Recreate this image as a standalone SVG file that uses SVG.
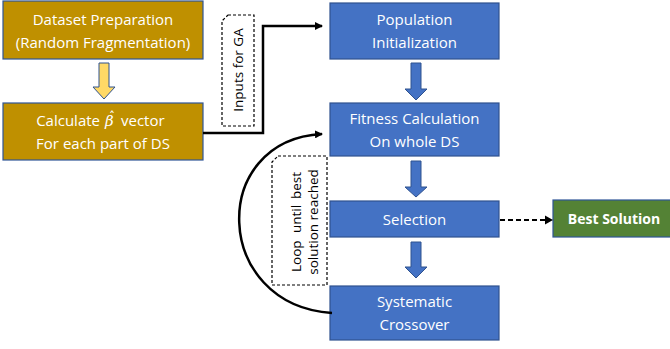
<svg xmlns="http://www.w3.org/2000/svg" width="670" height="349" viewBox="0 0 670 349">
<defs>
<style>
.gold{fill:#BF9000;stroke:#2F5597;stroke-width:1.2}
.blue{fill:#4472C4;stroke:#2F528F;stroke-width:1.2}
.green{fill:#548235;stroke:#2F5597;stroke-width:1.2}
.t{font-family:"Open Sans","Noto Sans","Liberation Sans",sans-serif;font-size:15px;fill:#fff;text-anchor:middle}
.tb{font-family:"Open Sans","Noto Sans","Liberation Sans",sans-serif;font-size:14px;font-weight:bold;fill:#fff;text-anchor:middle}
.lbl{font-family:"Open Sans","Noto Sans","Liberation Sans",sans-serif;font-size:13.5px;fill:#000}
.dash{fill:#fff;stroke:#000;stroke-width:1.2;stroke-dasharray:3,2}
.conn{fill:none;stroke:#000;stroke-width:2.5}
.barrow{fill:#4472C4;stroke:#2F528F;stroke-width:1}
</style>
<marker id="ah2" markerWidth="8" markerHeight="8" refX="7" refY="4" orient="auto" markerUnits="userSpaceOnUse">
<path d="M0,0 L8,4 L0,8 Z" fill="#000"/>
</marker>
</defs>
<rect width="670" height="349" fill="#fff"/>

<g id="n-dataset">
<rect class="gold" x="3" y="1" width="200" height="58"/>
<text class="t" x="103" y="25">Dataset Preparation</text>
<text class="t" x="103" y="48">(Random Fragmentation)</text>
</g>
<g id="n-calc">
<rect class="gold" x="3" y="103" width="200" height="57"/>
<text class="t" x="100" y="126" style="text-anchor:end">Calculate</text>
<text x="105" y="126" font-family="'DejaVu Serif','Liberation Serif',serif" font-style="italic" font-size="15" fill="#fff">β<tspan x="109" y="121" font-style="normal" font-size="12" font-family="'DejaVu Sans',sans-serif">ˆ</tspan></text>
<text class="t" x="121" y="126" style="text-anchor:start">vector</text>
<text class="t" x="103" y="149">For each part of DS</text>
</g>
<g id="n-pop">
<rect class="blue" x="330" y="3" width="169" height="56"/>
<text class="t" x="414.5" y="25">Population</text>
<text class="t" x="414.5" y="48">Initialization</text>
</g>
<g id="n-fit">
<rect class="blue" x="330" y="103" width="169" height="53"/>
<text class="t" x="414.5" y="124">Fitness Calculation</text>
<text class="t" x="414.5" y="147">On whole DS</text>
</g>
<g id="n-sel">
<rect class="blue" x="330" y="201" width="169" height="36"/>
<text class="t" x="414.5" y="224.5">Selection</text>
</g>
<g id="n-cross">
<rect class="blue" x="330" y="286" width="169" height="54"/>
<text class="t" x="414.5" y="307">Systematic</text>
<text class="t" x="414.5" y="330">Crossover</text>
</g>
<g id="n-best">
<rect class="green" x="553" y="200" width="120" height="37"/>
<text class="tb" x="614" y="224">Best Solution</text>
</g>

<g id="lbl-inputs">
<path class="dash" d="M228,15 H254 V126 H222 V21 Z"/>
<text class="lbl" transform="translate(243,70) rotate(-90)" text-anchor="middle">Inputs for GA</text>
</g>
<g id="lbl-loop">
<path class="dash" d="M278,156 H327 V285 H272 V162 Z"/>
<g transform="translate(301,222) rotate(-90)">
<text class="lbl" x="-50" y="0">Loop</text>
<text class="lbl" x="3" y="0" text-anchor="middle">until</text>
<text class="lbl" x="50" y="0" text-anchor="end">best</text>
</g>
<text class="lbl" transform="translate(318,222) rotate(-90)" text-anchor="middle">solution reached</text>
</g>

<g id="connectors">
<path d="M99,63 H109 V87 H115 L104,99 L93,87 H99 Z" fill="#FFD966" stroke="#2F528F" stroke-width="1"/>
<path class="barrow" d="M411,63 H421 V89 H427 L416,100 L405,89 H411 Z"/>
<path class="barrow" d="M411,161 H421 V187 H427 L416,197 L405,187 H411 Z"/>
<path class="barrow" d="M411,242 H421 V267 H427 L416,278 L405,267 H411 Z"/>
<path class="conn" d="M203,133 H263 V26 H322" marker-end="url(#ah2)"/>
<path class="conn" d="M332,313 C212,305 208,140 322,134" marker-end="url(#ah2)"/>
<path d="M500,220 H545" fill="none" stroke="#000" stroke-width="2" stroke-dasharray="5,3"/>
<path d="M545,215.5 L553,220 L545,224.5 Z" fill="#000"/>
</g>
</svg>
